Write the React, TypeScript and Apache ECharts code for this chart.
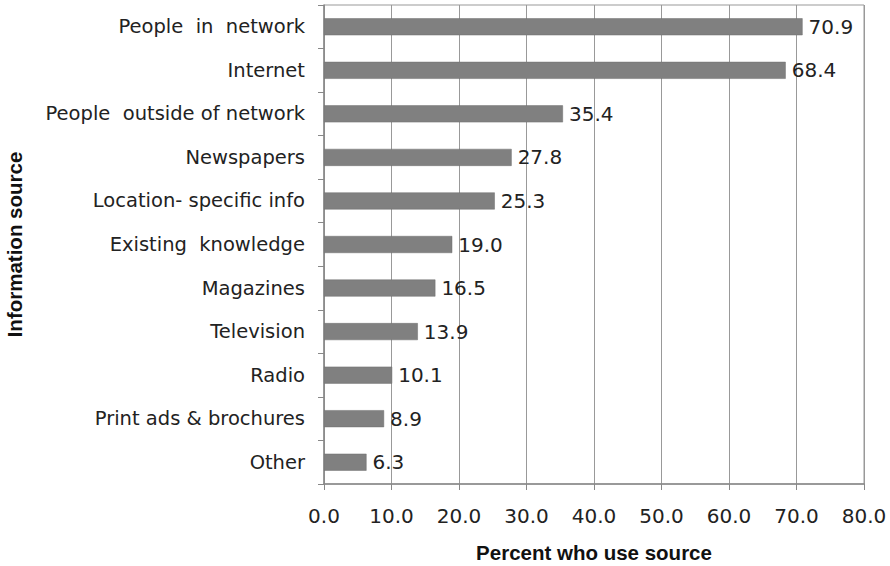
import React, { useEffect, useRef } from "react";
import * as echarts from "echarts";

const categories = [
  "People  in  network",
  "Internet",
  "People  outside of network",
  "Newspapers",
  "Location- specific info",
  "Existing  knowledge",
  "Magazines",
  "Television",
  "Radio",
  "Print ads & brochures",
  "Other",
];
const values = [70.9, 68.4, 35.4, 27.8, 25.3, 19.0, 16.5, 13.9, 10.1, 8.9, 6.3];
const xTicks = { min: 0, max: 80, interval: 10 };

export default function App() {
  const ref = useRef<HTMLDivElement>(null);
  useEffect(() => {
    const chart = echarts.init(ref.current!, null, { renderer: "svg" });
    chart.setOption({
      animation: false,
      grid: {
        left: 324,
        right: 26,
        top: 5,
        bottom: 82,
        outerBoundsMode: "none",
        containLabel: false,
        show: true,
        borderColor: "#999",
        borderWidth: 1,
        backgroundColor: "transparent",
      },
      xAxis: {
        type: "value",
        min: xTicks.min,
        max: xTicks.max,
        interval: xTicks.interval,
        name: "Percent who use source",
        nameLocation: "middle",
        nameGap: 58,
        nameTextStyle: { fontFamily: "Liberation Sans", fontWeight: "bold", fontSize: 20.5, color: "#111" },
        axisLine: { show: true, lineStyle: { color: "#888", width: 1.5 } },
        axisTick: { show: true, length: 6, lineStyle: { color: "#888" } },
        axisLabel: {
          formatter: (v: number) => v.toFixed(1),
          fontFamily: "DejaVu Sans",
          fontSize: 20,
          color: "#222",
          margin: 22,
        },
        splitLine: { show: true, lineStyle: { color: "#999", width: 1 } },
      },
      yAxis: {
        type: "category",
        data: categories,
        inverse: true,
        name: "Information source",
        nameLocation: "middle",
        nameGap: 299,
        nameRotate: 90,
        nameTextStyle: { fontFamily: "Liberation Sans", fontWeight: "bold", fontSize: 20.5, color: "#111" },
        axisLine: { show: true, lineStyle: { color: "#888", width: 1.5 } },
        axisTick: { show: true, length: 6, lineStyle: { color: "#888" } },
        axisLabel: {
          fontFamily: "DejaVu Sans",
          fontSize: 19.5,
          color: "#222",
          margin: 19,
        },
      },
      series: [
        {
          type: "bar",
          data: values,
          barWidth: 17,
          itemStyle: { color: "#808080", borderColor: "#6e6e6e", borderWidth: 0.5 },
          label: {
            show: true,
            position: "right",
            distance: 6,
            formatter: (p: any) => p.value.toFixed(1),
            fontFamily: "DejaVu Sans",
            fontSize: 20,
            color: "#222",
          },
        },
      ],
    });
    return () => chart.dispose();
  }, []);
  return (
    <div
      ref={ref}
      style={{ position: "fixed", left: 0, top: 0, width: 890, height: 566, background: "#fff" }}
    />
  );
}
